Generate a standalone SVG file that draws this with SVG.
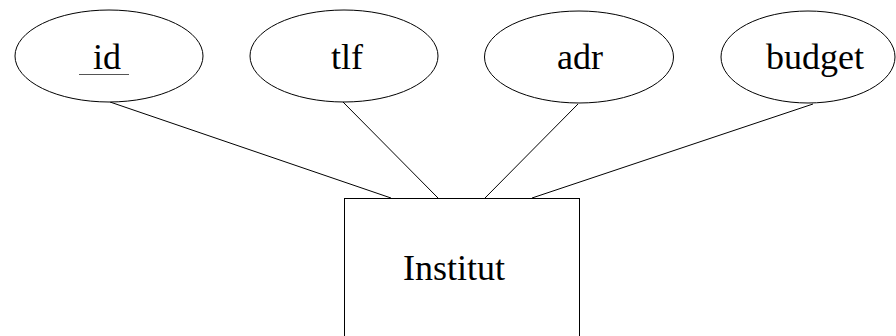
<svg xmlns="http://www.w3.org/2000/svg" width="896" height="336" viewBox="0 0 896 336">
<style>
.shape{fill:#fff;stroke:#000;stroke-width:1}
.lbl{font-family:'Liberation Serif','Times New Roman',serif;font-size:36px;fill:#000;text-anchor:middle}
.conn line{stroke:#000;stroke-width:1}
</style>
<rect width="896" height="336" fill="#fff"/>
<g id="connectors" class="conn">
<line x1="110" y1="102" x2="391" y2="198"/>
<line x1="343" y1="102" x2="438" y2="198"/>
<line x1="578" y1="104" x2="485" y2="198"/>
<line x1="813" y1="104" x2="532" y2="198"/>
</g>
<g id="attr-id">
<ellipse class="shape" cx="109" cy="56" rx="94" ry="46"/>
<text class="lbl" x="107" y="69">id</text>
<line x1="79" y1="74.5" x2="129" y2="74.5" stroke="#555" stroke-width="1"/>
</g>
<g id="attr-tlf">
<ellipse class="shape" cx="344" cy="56" rx="94" ry="46"/>
<text class="lbl" x="347" y="69">tlf</text>
</g>
<g id="attr-adr">
<ellipse class="shape" cx="579" cy="57" rx="94.5" ry="46"/>
<text class="lbl" x="580" y="69">adr</text>
</g>
<g id="attr-budget">
<ellipse class="shape" cx="808" cy="57" rx="87" ry="46"/>
<text class="lbl" x="815" y="69">budget</text>
</g>
<g id="entity-institut">
<rect class="shape" x="344.5" y="198.5" width="235" height="150"/>
<text class="lbl" x="454" y="280">Institut</text>
</g>
</svg>
